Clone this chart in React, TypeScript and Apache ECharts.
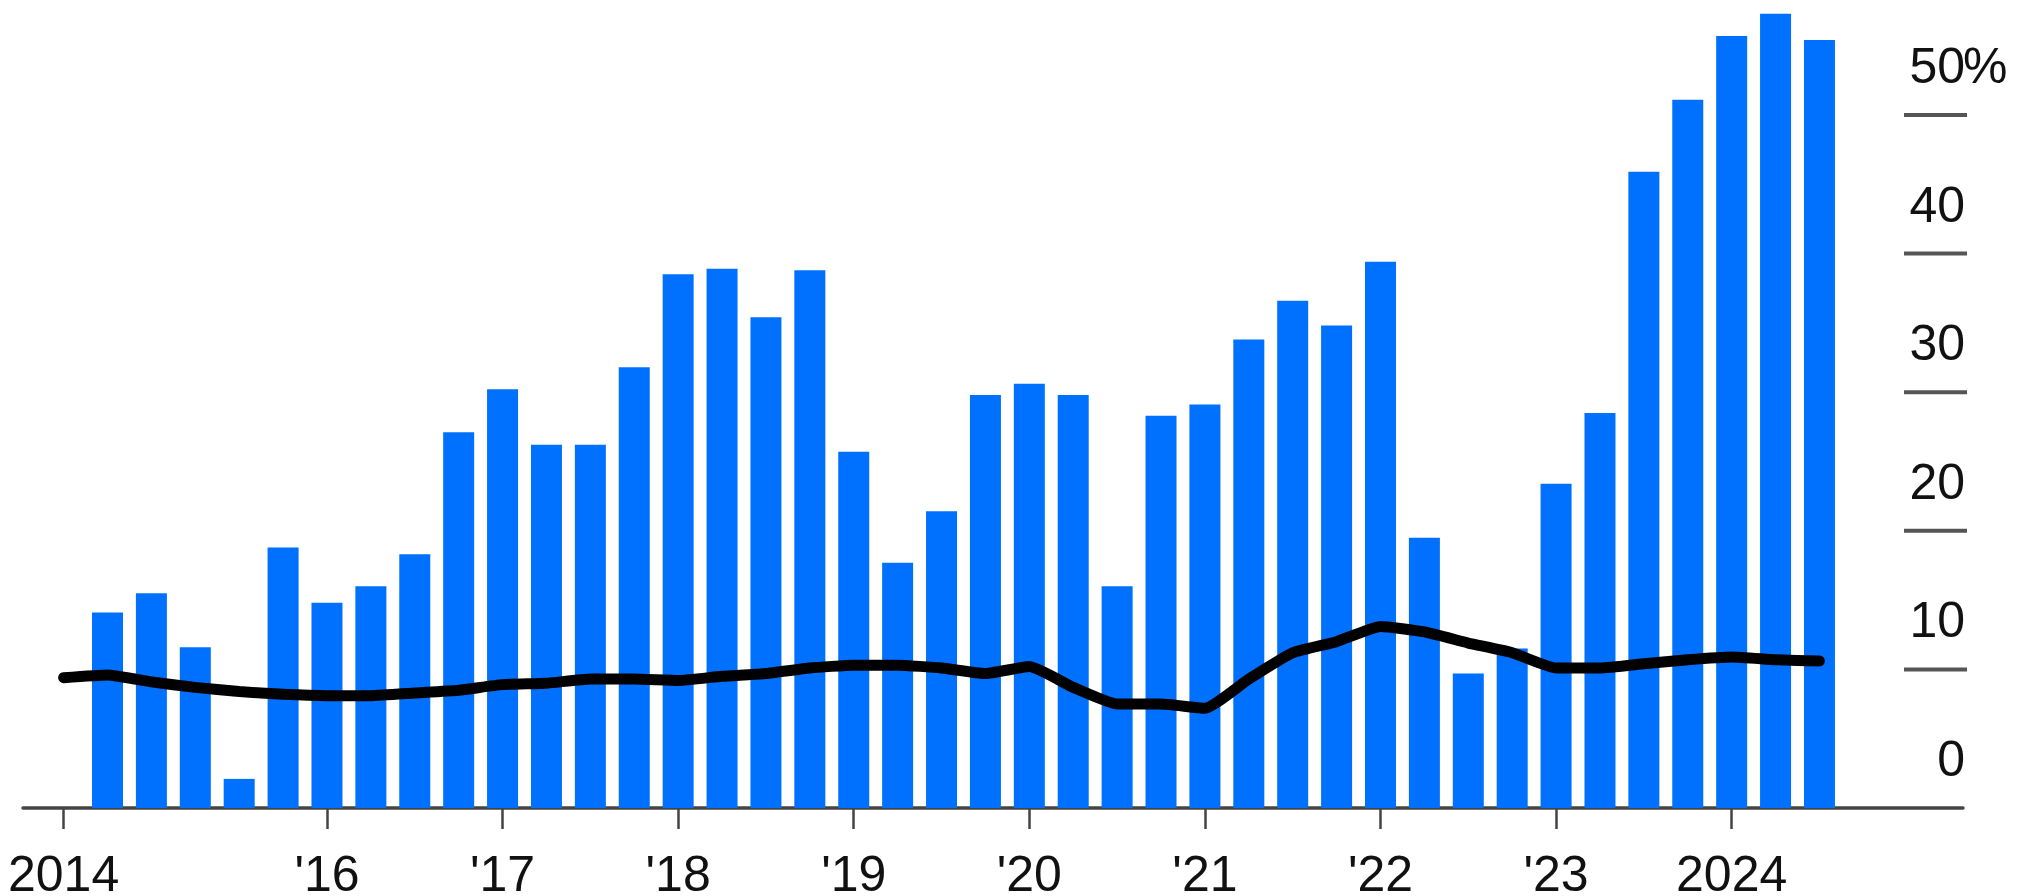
import React, { useEffect, useRef } from "react";
import * as echarts from "echarts";

const quarters = [
  "2014 Q3", "2014 Q4",
  "2015 Q1", "2015 Q2", "2015 Q3", "2015 Q4",
  "2016 Q1", "2016 Q2", "2016 Q3", "2016 Q4",
  "2017 Q1", "2017 Q2", "2017 Q3", "2017 Q4",
  "2018 Q1", "2018 Q2", "2018 Q3", "2018 Q4",
  "2019 Q1", "2019 Q2", "2019 Q3", "2019 Q4",
  "2020 Q1", "2020 Q2", "2020 Q3", "2020 Q4",
  "2021 Q1", "2021 Q2", "2021 Q3", "2021 Q4",
  "2022 Q1", "2022 Q2", "2022 Q3", "2022 Q4",
  "2023 Q1", "2023 Q2", "2023 Q3", "2023 Q4",
  "2024 Q1", "2024 Q2", "2024 Q3",
];

// blue bars (percent)
const barValues = [
  null, 14.1, 15.5, 11.6, 2.1, 18.8, 14.8, 16.0, 18.3, 27.1,
  30.2, 26.2, 26.2, 31.8, 38.5, 38.9, 35.4, 38.8, 25.7, 17.7,
  21.4, 29.8, 30.6, 29.8, 16.0, 28.3, 29.1, 33.8, 36.6, 34.8,
  39.4, 19.5, 9.7, 11.5, 23.4, 28.5, 45.9, 51.1, 55.7, 57.3,
  55.4,
];

// black line (percent)
const lineValues = [
  9.4, 9.6, 9.1, 8.7, 8.4, 8.2, 8.1, 8.1, 8.3, 8.5,
  8.9, 9.0, 9.3, 9.3, 9.2, 9.5, 9.7, 10.1, 10.3, 10.3,
  10.1, 9.7, 10.2, 8.7, 7.5, 7.5, 7.2, 9.3, 11.2, 12.0,
  13.1, 12.7, 11.9, 11.2, 10.1, 10.1, 10.4, 10.7, 10.9, 10.7,
  10.6,
];

const tickQuarters = ["2014 Q3", "2016 Q1", "2017 Q1", "2018 Q1", "2019 Q1", "2020 Q1", "2021 Q1", "2022 Q1", "2023 Q1", "2024 Q1"];
const tickLabels = ["2014", "'16", "'17", "'18", "'19", "'20", "'21", "'22", "'23", "2024"];
const yLabelValues = [0, 10, 20, 30, 40, 50];
const yUnit = "%";

const FONT = "'Liberation Sans', Arial, Helvetica, sans-serif";

export default function App() {
  const ref = useRef<HTMLDivElement>(null);

  useEffect(() => {
    if (!ref.current) return;
    const chart = echarts.init(ref.current, null, { renderer: "svg" });
    const tickIdx = tickQuarters.map((q) => quarters.indexOf(q));
    const topLabel = yLabelValues[yLabelValues.length - 1];

    chart.setOption({
      animation: false,
      backgroundColor: "#ffffff",
      grid: { left: 23, right: 63, top: 4, bottom: 88, containLabel: false, outerBoundsMode: "none" },
      xAxis: {
        type: "value",
        min: -0.925,
        max: 43.27,
        splitLine: { show: false },
        axisLine: { show: true, onZero: false, lineStyle: { color: "#444444", width: 3.5 } },
        axisTick: {
          show: true,
          customValues: tickIdx,
          length: 21,
          lineStyle: { color: "#444444", width: 2.5 },
        },
        axisLabel: {
          show: true,
          customValues: tickIdx,
          margin: 46,
          fontSize: 50,
          lineHeight: 40,
          color: "#111111",
          fontFamily: FONT,
          formatter: (v: number) => {
            const k = tickIdx.indexOf(Math.round(v));
            return k >= 0 ? tickLabels[k] : "";
          },
        },
      },
      yAxis: {
        type: "value",
        min: 0,
        max: 58,
        position: "right",
        offset: -61,
        splitLine: { show: false },
        axisLine: { show: false },
        axisTick: { show: false },
        axisLabel: {
          show: true,
          inside: false,
          customValues: yLabelValues,
          margin: 63,
          align: "right",
          color: "#111111",
          fontSize: 50,
          fontFamily: FONT,
          verticalAlign: "middle",
          padding: [0, 0, 98, 0],
          formatter: (v: number) => "{n|" + v + "}",
          rich: {
            n: { fontSize: 50, color: "#111111", fontFamily: FONT },
          },
        },
      },
      series: [
        {
          name: "bars",
          type: "bar",
          data: quarters.map((q, i) => [i, barValues[i]]),
          barWidth: 31,
          itemStyle: { color: "#0070ff" },
          z: 2,
        },
        {
          name: "line",
          type: "line",
          data: quarters.map((q, i) => [i, lineValues[i]]),
          showSymbol: false,
          symbol: "none",
          smooth: 0.15,
          lineStyle: { color: "#000000", width: 11, cap: "round", join: "round" },
          z: 3,
        },
      ],
    });

    // short right-hand tick marks and the unit sign, placed from the axis scale
    const graphics: any[] = [];
    yLabelValues.forEach((v) => {
      if (v === 0) return;
      const y = chart.convertToPixel({ yAxisIndex: 0 }, v) as number;
      graphics.push({
        type: "line",
        shape: { x1: 1904, y1: y, x2: 1967, y2: y },
        style: { stroke: "#555555", lineWidth: 4 },
        z: 5,
      });
    });
    const yTop = chart.convertToPixel({ yAxisIndex: 0 }, topLabel) as number;
    graphics.push({
      type: "text",
      x: 1963,
      y: yTop - 49,
      style: {
        text: yUnit,
        fontSize: 50,
        fontFamily: FONT,
        fill: "#111111",
        align: "left",
        verticalAlign: "middle",
      },
      z: 5,
    });
    chart.setOption({ graphic: graphics });

    return () => chart.dispose();
  }, []);

  return (
    <div
      ref={ref}
      style={{ position: "fixed", left: 0, top: 0, width: 2026, height: 896, background: "#fff" }}
    />
  );
}
